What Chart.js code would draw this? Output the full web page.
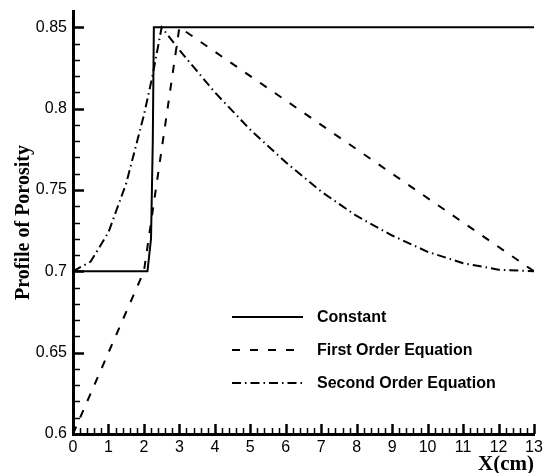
<!DOCTYPE html>
<html>
<head>
<meta charset="utf-8">
<script src="https://cdn.jsdelivr.net/npm/chart.js@4/dist/chart.umd.min.js"></script>
<style>
  html, body { margin: 0; padding: 0; background: #fff; }
  #wrap { width: 545px; height: 473px; }
</style>
</head>
<body>
<div id="wrap"><canvas id="porosity"></canvas></div>
<script>
// --- data ---
const constX = [0, 2.1, 2.2, 2.25, 2.28, 13];
const constY = [0.7, 0.7, 0.72, 0.78, 0.85, 0.85];

const firstX = [0, 2.0, 3.0, 13];
const firstY = [0.6, 0.7, 0.85, 0.7];

const secondX = [0, 0.5, 1, 1.5, 2, 2.25, 2.5, 3, 3.5, 4, 5, 6, 7, 8, 9, 10, 11, 12, 13];
const secondY = [0.7, 0.706, 0.724, 0.754, 0.796, 0.821, 0.85, 0.836, 0.823, 0.81, 0.787, 0.767, 0.749, 0.734, 0.722, 0.712, 0.705, 0.701, 0.7];

const seriesNames = ["Constant", "First Order Equation", "Second Order Equation"];
const xTitle = "X(cm)";
const yTitle = "Profile of Porosity";

function pairs(xs, ys) {
    return xs.map((x, i) => ({ x: x, y: ys[i] }));
}

function isMajor(v, step) {
    let k = v / step;
    return Math.abs(k - Math.round(k)) < 1e-6;
}

// inward tick marks + legend drawn inside the plot
const extras = {
    id: "extras",
    afterDraw(chart) {
        const ctx = chart.ctx;
        const area = chart.chartArea;
        const xs = chart.scales.x, ys = chart.scales.y;
        ctx.save();
        ctx.strokeStyle = "#000";
        ctx.setLineDash([]);
        ys.ticks.forEach(t => {
            if (t.value > 0.855) return;
            let py = Math.round(ys.getPixelForValue(t.value)) + 0.5;
            let major = isMajor(t.value, 0.05);
            ctx.lineWidth = major ? 2.5 : 1.5;
            ctx.beginPath();
            ctx.moveTo(area.left, py);
            ctx.lineTo(area.left + (major ? 11 : 7), py);
            ctx.stroke();
        });
        xs.ticks.forEach(t => {
            let px = Math.round(xs.getPixelForValue(t.value)) + 0.5;
            let major = isMajor(t.value, 1);
            ctx.lineWidth = major ? 2.5 : 1.5;
            ctx.beginPath();
            ctx.moveTo(px, area.bottom);
            ctx.lineTo(px, area.bottom - (major ? 10 : 6));
            ctx.stroke();
        });

        // legend
        ctx.font = "bold 16px 'Liberation Sans', Arial, sans-serif";
        ctx.textBaseline = "middle";
        ctx.fillStyle = "#000";
        chart.data.datasets.forEach((ds, i) => {
            let y = 317 + i * 33;
            ctx.lineWidth = ds.borderWidth;
            ctx.setLineDash(ds.borderDash || []);
            ctx.beginPath();
            ctx.moveTo(232, y);
            ctx.lineTo(303, y);
            ctx.stroke();
            ctx.setLineDash([]);
            ctx.fillText(ds.label, 317, y + 1);
        });
        ctx.restore();
    }
};

new Chart(document.getElementById("porosity"), {
    type: "line",
    data: {
        datasets: [
            {
                label: seriesNames[0],
                data: pairs(constX, constY),
                borderColor: "#000",
                borderWidth: 2,
                pointRadius: 0,
                tension: 0
            },
            {
                label: seriesNames[1],
                data: pairs(firstX, firstY),
                borderColor: "#000",
                borderWidth: 2,
                borderDash: [8, 10],
                pointRadius: 0,
                tension: 0
            },
            {
                label: seriesNames[2],
                data: pairs(secondX, secondY),
                borderColor: "#000",
                borderWidth: 2,
                borderDash: [9, 4, 1.5, 4],
                pointRadius: 0,
                tension: 0
            }
        ]
    },
    options: {
        responsive: true,
        maintainAspectRatio: false,
        animation: false,
        layout: { padding: { top: 11, right: 11, left: 0, bottom: 0 } },
        plugins: {
            legend: { display: false },
            tooltip: { enabled: false }
        },
        scales: {
            x: {
                type: "linear",
                min: 0,
                max: 13,
                grid: { display: false, drawTicks: false },
                border: { display: true, color: "#000", width: 3 },
                ticks: {
                    stepSize: 0.2,
                    autoSkip: false,
                    maxRotation: 0,
                    padding: 4,
                    color: "#000",
                    font: { family: "'Liberation Sans', Arial, sans-serif", size: 16 },
                    callback: v => isMajor(v, 1) ? String(Math.round(v)) : ""
                },
                title: {
                    display: true,
                    text: xTitle,
                    align: "end",
                    color: "#000",
                    padding: { top: 0, bottom: -4 },
                    font: { family: "'Liberation Serif', 'Times New Roman', serif", size: 21, weight: "bold" }
                },
                afterFit: s => { s.height = 39; s.paddingLeft = 0; s.paddingRight = 0; }
            },
            y: {
                min: 0.6,
                max: 0.86,
                grid: { display: false, drawTicks: false },
                border: { display: true, color: "#000", width: 3 },
                ticks: {
                    stepSize: 0.01,
                    autoSkip: false,
                    padding: 6,
                    color: "#000",
                    font: { family: "'Liberation Sans', Arial, sans-serif", size: 16 },
                    callback: v => (isMajor(v, 0.05) && v < 0.855) ? String(Math.round(v * 100) / 100) : ""
                },
                title: {
                    display: true,
                    text: yTitle,
                    color: "#000",
                    padding: { top: 12, bottom: 0 },
                    font: { family: "'Liberation Serif', 'Times New Roman', serif", size: 20, weight: "bold" }
                },
                afterFit: s => { s.width = 73; s.paddingTop = 0; s.paddingBottom = 0; }
            }
        }
    },
    plugins: [extras]
});
</script>
</body>
</html>
